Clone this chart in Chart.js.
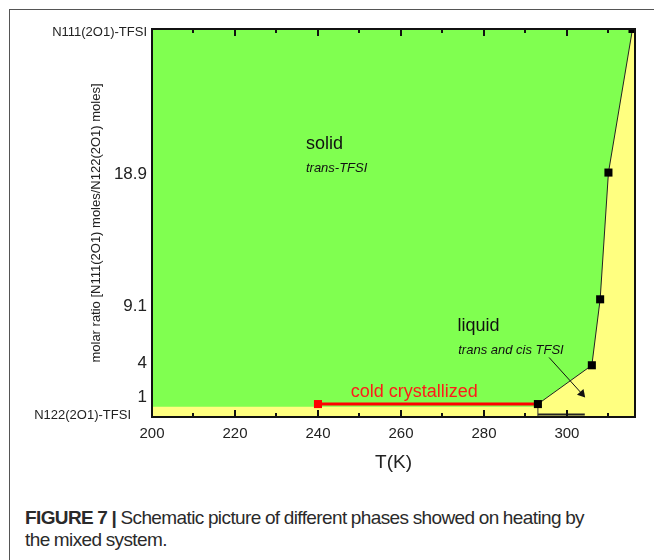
<!DOCTYPE html>
<html>
<head>
<meta charset="utf-8">
<script src="https://cdn.jsdelivr.net/npm/chart.js@4.4.0/dist/chart.umd.min.js"></script>
<style>
  html, body { margin: 0; padding: 0; background: #fff; }
  body { width: 654px; height: 560px; position: relative; overflow: hidden; font-family: "Liberation Sans", Arial, sans-serif; }
  .frame { position: absolute; left: 9px; top: 9px; right: 0; bottom: 0; border-left: 1px solid #555; border-top: 1px solid #555; }
  #chart { position: absolute; left: 0; top: 0; }
  .caption { position: absolute; left: 25px; top: 507px; font-size: 19px; line-height: 22px; color: #2a2a2a; letter-spacing: -0.6px; word-spacing: -0.5px; }
</style>
</head>
<body>
<div class="frame"></div>
<canvas id="chart" width="654" height="480"></canvas>
<div class="caption"><b>FIGURE 7 |</b> Schematic picture of different phases showed on heating by<br>the mixed system.</div>
<script>
const FONT = '"Liberation Sans", Arial, sans-serif';

/* ---------- data ---------- */
const tempTicks = [200, 220, 240, 260, 280, 300];
const tempMinorTicks = [210, 230, 250, 270, 290, 310];
const ratioTicks = [0, 1, 4, 9.1, 18.9, 30];
const ratioTickLabels = ["N122(2O1)-TFSI", "1", "4", "9.1", "18.9", "N111(2O1)-TFSI"];

// melting boundary on heating (T in K vs molar ratio)
const meltT = [293, 306, 308, 310, 315.8];
const meltRatio = [1, 4, 9.1, 18.9, 30];

// cold crystallization range of the 1:1 mixture
const coldT = [240, 293];
const coldRatio = [1, 1];

// thin liquid strip along the pure N122 side
const stripT = [200, 293];
const stripTop = [0.8, 0.8];

// drop line under 293 K and short dark segment on the bottom
const dropT = [293, 293];
const dropRatio = [0, 1];
const baseT = [293, 304.3];
const baseRatio = [0.2, 0.2];

// arrow from the "trans and cis TFSI" note
const arrowT = [295.7, 303.6];
const arrowRatio = [4.6, 1.8];

const pts = (xs, ys) => xs.map((x, i) => ({ x, y: ys[i] }));

/* ---------- small plugins ---------- */
const GREEN = "#80ff50";
const YELLOW = "#ffff80";

const liquidBackground = {
  id: "liquidBackground",
  beforeDatasetsDraw(chart) {
    const { ctx, chartArea: a } = chart;
    ctx.save();
    ctx.fillStyle = YELLOW;
    ctx.fillRect(a.left, a.top, a.right - a.left, a.bottom - a.top);
    ctx.restore();
  },
};

// box + inward tick marks on top and bottom
const frameTicks = {
  id: "frameTicks",
  afterDatasetsDraw(chart) {
    const { ctx, chartArea: a, scales: { x } } = chart;
    ctx.save();
    ctx.strokeStyle = "#111";
    ctx.lineWidth = 2;
    const mark = (v, len) => {
      const px = Math.round(x.getPixelForValue(v));
      ctx.beginPath();
      ctx.moveTo(px, a.top); ctx.lineTo(px, a.top + len);
      ctx.moveTo(px, a.bottom); ctx.lineTo(px, a.bottom - len);
      ctx.stroke();
    };
    tempTicks.slice(1).forEach((v) => mark(v, 7));
    tempMinorTicks.forEach((v) => mark(v, 4));
    ctx.strokeRect(a.left, a.top, a.right - a.left, a.bottom - a.top);
    ctx.restore();
  },
};

// y labels: end members in small type, ratios larger; small nudges as in the figure
const labelNudge = { "N122(2O1)-TFSI": [-16, -2], "1": [0, -7], "4": [0, -2], "9.1": [0, 7], "18.9": [0, 2], "N111(2O1)-TFSI": [0, 3] };
const ratioLabels = {
  id: "ratioLabels",
  afterDraw(chart) {
    const { ctx, chartArea: a, scales: { y } } = chart;
    ctx.save();
    ctx.fillStyle = "#222";
    ctx.textAlign = "right";
    ctx.textBaseline = "middle";
    ratioTicks.forEach((v, i) => {
      const label = ratioTickLabels[i];
      const small = label.length > 4;
      const [dx, dy] = labelNudge[label] || [0, 0];
      ctx.font = (small ? 13 : 17) + "px " + FONT;
      ctx.fillText(label, a.left - 5 + dx, y.getPixelForValue(v) + dy);
    });
    ctx.restore();
  },
};

const notes = [
  { text: "solid", t: 237.1, r: 21.1, font: "18px", color: "#111" },
  { text: "trans-TFSI", t: 237.1, r: 19.2, font: "italic 13px", color: "#111" },
  { text: "liquid", t: 273.6, r: 7.0, font: "18px", color: "#111" },
  { text: "trans and cis TFSI", t: 273.8, r: 5.15, font: "italic 13px", color: "#111" },
  { text: "cold crystallized", t: 247.9, r: 1.9, font: "18px", color: "#ff1a1a" },
];
const noteText = {
  id: "noteText",
  afterDraw(chart) {
    const { ctx, scales: { x, y } } = chart;
    ctx.save();
    ctx.textAlign = "left";
    ctx.textBaseline = "middle";
    notes.forEach((n) => {
      ctx.font = n.font + " " + FONT;
      ctx.fillStyle = n.color;
      ctx.fillText(n.text, x.getPixelForValue(n.t), y.getPixelForValue(n.r));
    });
    ctx.restore();
  },
};

/* ---------- chart ---------- */
new Chart(document.getElementById("chart"), {
  type: "scatter",
  data: {
    datasets: [
      {
        // solid (green) region: above the strip, left of the melting line
        data: pts(stripT, stripTop).concat(pts(meltT, meltRatio)),
        showLine: true, fill: "end", backgroundColor: GREEN,
        borderWidth: 0, pointRadius: 0, order: 9,
      },
      {
        data: pts(dropT, dropRatio), showLine: true,
        borderColor: "#333", borderWidth: 1, pointRadius: 0, order: 5,
      },
      {
        data: pts(baseT, baseRatio), showLine: true,
        borderColor: "#222", borderWidth: 2, pointRadius: 0, order: 5,
      },
      {
        data: pts(arrowT, arrowRatio), showLine: true,
        borderColor: "#111", borderWidth: 1,
        pointRadius: [0, 5], pointStyle: "triangle", rotation: 139,
        pointBackgroundColor: "#111", pointBorderWidth: 0, order: 4,
      },
      {
        data: pts(coldT, coldRatio), showLine: true,
        borderColor: "#ff0000", borderWidth: 3,
        pointRadius: [5.7, 0], pointStyle: "rect",
        pointBackgroundColor: "#ff0000", pointBorderWidth: 0, order: 2,
      },
      {
        data: pts(meltT, meltRatio), showLine: true,
        borderColor: "#222", borderWidth: 1,
        pointRadius: 5.7, pointStyle: "rect",
        pointBackgroundColor: "#000", pointBorderWidth: 0, order: 1,
      },
    ],
  },
  options: {
    responsive: false,
    animation: false,
    layout: { padding: { left: 0, top: 29, right: 19, bottom: 0 } },
    plugins: { legend: { display: false }, tooltip: { enabled: false } },
    scales: {
      x: {
        type: "linear", min: 200, max: 316.4,
        afterBuildTicks: (s) => { s.ticks = tempTicks.map((v) => ({ value: v })); },
        afterFit: (s) => { s.height = 63; },
        grid: { display: false, drawTicks: false },
        border: { display: false },
        ticks: { color: "#222", font: { size: 15, family: FONT }, padding: 8, maxRotation: 0 },
        title: { display: true, text: "T(K)", color: "#222", font: { size: 19, family: FONT }, padding: { top: 0, bottom: 6 } },
      },
      y: {
        type: "linear", min: 0, max: 30,
        afterFit: (s) => { s.width = 152; },
        grid: { display: false, drawTicks: false },
        border: { display: false },
        ticks: { display: false },
        title: {
          display: true, text: "molar ratio [N111(2O1) moles/N122(2O1) moles]",
          color: "#222", font: { size: 13, family: FONT }, padding: { top: 89, bottom: 0 },
        },
      },
    },
  },
  plugins: [liquidBackground, frameTicks, ratioLabels, noteText],
});
</script>
</body>
</html>
